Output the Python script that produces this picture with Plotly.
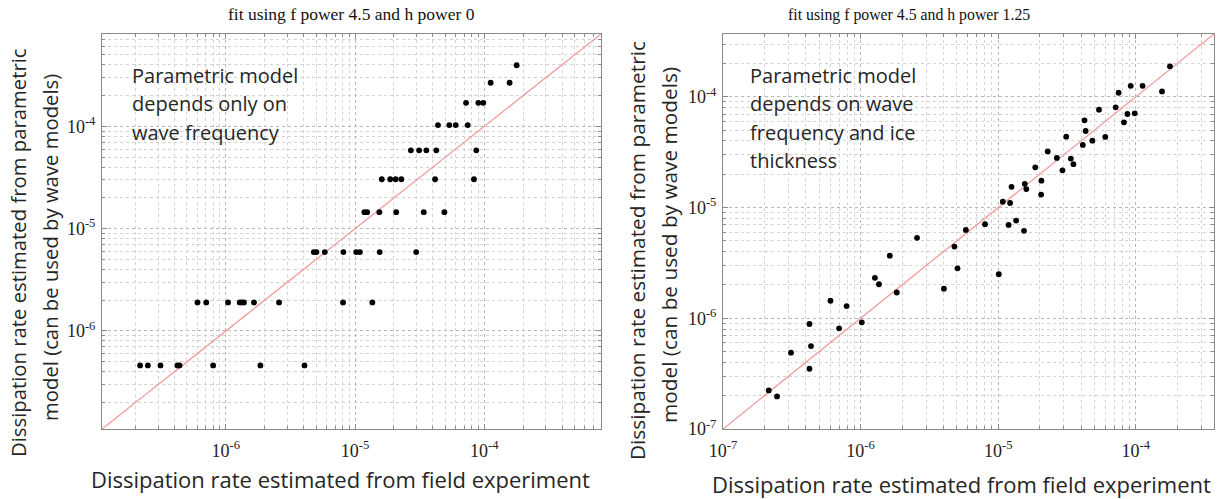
import plotly.graph_objects as go
import math

# ---------------- text ----------------
left_title = "fit using f power 4.5 and h power 0"
right_title = "fit using f power 4.5 and h power 1.25"
x_title = "Dissipation rate estimated from field experiment"
y_title_lines = ["Dissipation rate estimated from parametric",
                 "model (can be used by wave models)"]
left_note = ["Parametric model", "depends only on", "wave frequency"]
right_note = ["Parametric model", "depends on wave", "frequency and ice", "thickness"]

# ---------------- data ----------------
# left panel: f power 4.5, h power 0
left_x = [1.78e-4,
          1.12e-4, 1.57e-4,
          7.22e-5, 8.99e-5, 9.82e-5,
          4.38e-5, 5.36e-5, 6.01e-5, 7.44e-5,
          2.70e-5, 3.13e-5, 3.56e-5, 4.25e-5, 8.67e-5,
          1.61e-5, 1.87e-5, 2.06e-5, 2.28e-5, 4.16e-5, 8.32e-5,
          1.18e-5, 1.24e-5, 1.54e-5, 2.08e-5, 3.40e-5, 4.91e-5,
          4.79e-6, 5.02e-6, 5.83e-6, 8.12e-6, 1.02e-5, 1.09e-5, 1.55e-5, 2.97e-5,
          6.03e-7, 7.05e-7, 1.04e-6, 1.28e-6, 1.33e-6, 1.38e-6, 1.65e-6, 2.58e-6, 8.07e-6, 1.36e-5,
          2.17e-7, 2.49e-7, 3.12e-7, 4.22e-7, 4.38e-7, 7.97e-7, 1.85e-6, 4.06e-6]
left_y = [3.96e-4,
          2.67e-4, 2.67e-4,
          1.70e-4, 1.70e-4, 1.70e-4,
          1.03e-4, 1.03e-4, 1.03e-4, 1.03e-4,
          5.83e-5, 5.83e-5, 5.83e-5, 5.83e-5, 5.83e-5,
          3.04e-5, 3.04e-5, 3.04e-5, 3.04e-5, 3.04e-5, 3.04e-5,
          1.45e-5, 1.45e-5, 1.45e-5, 1.45e-5, 1.45e-5, 1.45e-5,
          5.9e-6, 5.9e-6, 5.9e-6, 5.9e-6, 5.9e-6, 5.9e-6, 5.9e-6, 5.9e-6,
          1.9e-6, 1.9e-6, 1.9e-6, 1.9e-6, 1.9e-6, 1.9e-6, 1.9e-6, 1.9e-6, 1.9e-6, 1.9e-6,
          4.6e-7, 4.6e-7, 4.6e-7, 4.6e-7, 4.6e-7, 4.6e-7, 4.6e-7, 4.6e-7]

# right panel: f power 4.5, h power 1.25
right_x = [1.77e-4, 1.55e-4, 9.18e-5, 1.12e-4, 7.50e-5, 7.14e-5, 8.69e-5, 9.82e-5,
           8.20e-5, 5.40e-5, 4.24e-5, 4.32e-5, 6.00e-5, 4.12e-5, 4.83e-5, 3.12e-5,
           2.29e-5, 2.67e-5, 3.37e-5, 3.52e-5, 1.86e-5, 2.93e-5, 2.06e-5, 1.56e-5,
           1.60e-5, 1.25e-5, 2.05e-5, 1.08e-5, 1.22e-5, 8.02e-6, 1.19e-5, 1.35e-5,
           5.82e-6, 1.54e-5, 4.81e-6, 2.57e-6, 1.63e-6, 5.06e-6, 1.01e-5, 1.27e-6,
           1.36e-6, 1.83e-6, 4.03e-6, 6.04e-7, 7.91e-7, 4.25e-7, 6.98e-7, 1.02e-6,
           4.36e-7, 3.12e-7, 4.25e-7, 2.15e-7, 2.47e-7]
right_y = [1.89e-4, 1.12e-4, 1.26e-4, 1.26e-4, 1.09e-4, 8.05e-5, 7.01e-5, 7.11e-5,
           5.89e-5, 7.67e-5, 6.14e-5, 4.92e-5, 4.35e-5, 3.68e-5, 4.02e-5, 4.37e-5,
           3.22e-5, 2.81e-5, 2.77e-5, 2.47e-5, 2.31e-5, 2.17e-5, 1.75e-5, 1.64e-5,
           1.47e-5, 1.54e-5, 1.31e-5, 1.13e-5, 1.10e-5, 7.09e-6, 6.98e-6, 7.64e-6,
           6.29e-6, 6.17e-6, 4.45e-6, 5.33e-6, 3.68e-6, 2.83e-6, 2.50e-6, 2.32e-6,
           2.03e-6, 1.71e-6, 1.85e-6, 1.44e-6, 1.29e-6, 8.88e-7, 8.12e-7, 9.20e-7,
           5.61e-7, 4.89e-7, 3.50e-7, 2.23e-7, 1.97e-7]

left_limits = [1.1e-7, 8e-4]
right_limits = [1e-7, 3.7e-4]
left_tickvals = [1e-6, 1e-5, 1e-4]
right_tickvals = [1e-7, 1e-6, 1e-5, 1e-4]
left_ticktext = ["10<sup>-6</sup>", "10<sup>-5</sup>", "10<sup>-4</sup>"]
right_ticktext = ["10<sup>-7</sup>", "10<sup>-6</sup>", "10<sup>-5</sup>", "10<sup>-4</sup>"]

# ---------------- figure ----------------
W, H = 1227, 499
fig = go.Figure()

dot = dict(color="black", size=5.8)
line_col = "#f29a9a"

fig.add_trace(go.Scatter(x=left_limits, y=left_limits, mode="lines",
                         line=dict(color=line_col, width=1.3),
                         xaxis="x", yaxis="y", hoverinfo="skip"))
fig.add_trace(go.Scatter(x=left_x, y=left_y, mode="markers", marker=dot,
                         xaxis="x", yaxis="y"))
fig.add_trace(go.Scatter(x=right_limits, y=right_limits, mode="lines",
                         line=dict(color=line_col, width=1.3),
                         xaxis="x2", yaxis="y2", hoverinfo="skip"))
fig.add_trace(go.Scatter(x=right_x, y=right_y, mode="markers", marker=dot,
                         xaxis="x2", yaxis="y2"))

tick_font = dict(family="Liberation Serif", size=18, color="#222222")
frame = "#8a8a8a"


def axis(rng, tv, tt, dom, anchor, standoff):
    return dict(type="log", range=[math.log10(rng[0]), math.log10(rng[1])],
                domain=dom, anchor=anchor, automargin=False,
                tickmode="array", tickvals=tv, ticktext=tt,
                tickfont=tick_font, ticklabelstandoff=standoff,
                showline=True, linecolor=frame, linewidth=1, mirror="allticks",
                ticks="inside", ticklen=5, tickcolor=frame,
                showgrid=True, gridcolor="#b8b8b8", griddash="dot", gridwidth=1,
                minor=dict(dtick="D1", ticks="inside", ticklen=3, tickcolor=frame,
                           showgrid=True, gridcolor="#d4d4d4", griddash="dot", gridwidth=1),
                zeroline=False, fixedrange=True)


ydom = [70 / H, 1 - 34 / H]
fig.update_layout(
    width=W, height=H,
    margin=dict(l=0, r=0, t=0, b=0, autoexpand=False),
    paper_bgcolor="white", plot_bgcolor="white",
    showlegend=False,
    xaxis=axis(left_limits, left_tickvals, left_ticktext, [102 / W, 601 / W], "y", 5),
    yaxis=axis(left_limits, left_tickvals, left_ticktext, ydom, "x", 2),
    xaxis2=axis(right_limits, right_tickvals, right_ticktext, [723 / W, 1214 / W], "y2", 5),
    yaxis2=axis(right_limits, right_tickvals, right_ticktext, ydom, "x2", 2),
)

txt = "#262626"
sans = "Open Sans"


def ann(text, px, py, size, family=sans, angle=0, xanchor="center", color=txt):
    fig.add_annotation(text=text, x=px / W, y=1 - py / H, xref="paper", yref="paper",
                       showarrow=False, textangle=angle, xanchor=xanchor, yanchor="middle",
                       font=dict(family=family, size=size, color=color))


ann(left_title, 351, 14, 17.5, family="Liberation Serif", color="#111111")
ann(right_title, 909, 15, 15.8, family="Liberation Serif", color="#111111")

for i, t in enumerate(left_note):
    ann(t, 130, 75 + 28.5 * i, 20, xanchor="left")
for i, t in enumerate(right_note):
    ann(t, 748, 75 + 28.5 * i, 20, xanchor="left")

ann(y_title_lines[0], 18, 253, 20.3, angle=-90)
ann(y_title_lines[1], 50, 248, 20.3, angle=-90)
ann(y_title_lines[0], 637, 251, 20.8, angle=-90)
ann(y_title_lines[1], 669, 245, 20.8, angle=-90)

ann(x_title, 340, 479, 22)
ann(x_title, 961, 484, 22)

fig.write_html("out.html")
